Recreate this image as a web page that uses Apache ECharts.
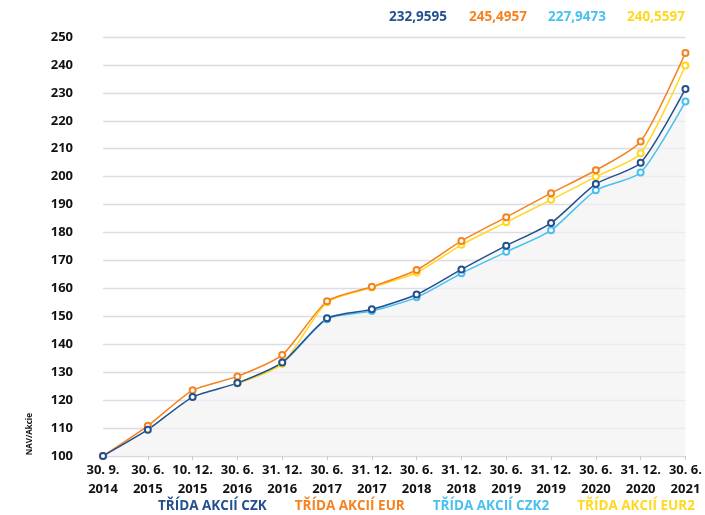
<!DOCTYPE html>
<html>
<head>
<meta charset="utf-8">
<script src="https://cdn.jsdelivr.net/npm/echarts@6/dist/echarts.min.js"></script>
<style>
  html, body { margin: 0; padding: 0; background: #fff; }
  #chart { width: 705px; height: 515px; }
</style>
</head>
<body>
<div id="chart"></div>
<script>
// dates of NAV per share
var categories = ['30. 9.\n2014', '30. 6.\n2015', '10. 12.\n2015', '30. 6.\n2016', '31. 12.\n2016',
  '30. 6.\n2017', '31. 12.\n2017', '30. 6.\n2018', '31. 12.\n2018', '30. 6.\n2019',
  '31. 12.\n2019', '30. 6.\n2020', '31. 12.\n2020', '30. 6.\n2021']

var czk = [100, 109.4, 121.1, 126.1, 133.5, 149.3, 152.5, 157.8, 166.8, 175.3, 183.4, 197.4, 205.0, 231.4]
var eur = [100, 110.8, 123.5, 128.5, 136.2, 155.4, 160.6, 166.6, 177.0, 185.5, 194.1, 202.3, 212.6, 244.3]
var czk2 = [null, null, null, 126.0, 133.2, 149.0, 151.9, 156.8, 165.4, 173.1, 180.8, 195.1, 201.5, 226.9]
var eur2 = [null, null, null, 126.0, 133.0, 155.0, 160.3, 165.7, 175.6, 183.7, 191.7, 200.0, 208.4, 239.8]

// latest NAV shown above the chart
var latest = ['232,9595', '245,4957', '227,9473', '240,5597']

var names = ['TŘÍDA AKCIÍ CZK', 'TŘÍDA AKCIÍ EUR', 'TŘÍDA AKCIÍ CZK2', 'TŘÍDA AKCIÍ EUR2']
var colors = ['#25508f', '#f5821f', '#49c1ef', '#ffd81f']
var yTicks = { min: 100, max: 250, step: 10 }

var font = '"Open Sans"'
var chart = echarts.init(document.getElementById('chart'))

function line(name, data, color, extra) {
  var s = {
    name: name,
    type: 'line',
    data: data,
    smooth: 0.22,
    symbol: 'emptyCircle',
    symbolSize: 6,
    lineStyle: { color: color, width: 1.5 },
    itemStyle: { color: color, borderWidth: 1.2 },
    animation: false
  }
  return Object.assign(s, extra || {})
}

var topX = [418, 498, 577, 656]

chart.setOption({
  textStyle: { fontFamily: font },
  grid: { left: 103, right: 18, top: 37, bottom: 59 },
  legend: {
    top: 499,
    left: 153,
    width: 560,
    padding: 0,
    itemWidth: 0,
    itemHeight: 0,
    itemGap: 23,
    selectedMode: false,
    textStyle: { fontFamily: font, fontWeight: 'bold', fontSize: 13.5 },
    data: names.map(function (n, i) {
      return { name: n, icon: 'none', textStyle: { color: colors[i] } }
    })
  },
  xAxis: {
    type: 'category',
    data: categories,
    boundaryGap: false,
    axisLine: { lineStyle: { color: '#d9d9e3' } },
    axisTick: { show: true, length: 4, lineStyle: { color: '#c8c8d0' } },
    axisLabel: {
      color: '#111',
      fontFamily: font,
      fontWeight: 'bold',
      fontSize: 13,
      lineHeight: 19,
      margin: 5,
      interval: 0
    }
  },
  yAxis: {
    type: 'value',
    min: yTicks.min,
    max: yTicks.max,
    interval: yTicks.step,
    axisLine: { show: false },
    axisTick: { show: false },
    splitLine: { lineStyle: { color: '#dcdce7', width: 1.3 } },
    axisLabel: {
      color: '#111',
      fontFamily: font,
      fontWeight: 'bold',
      fontSize: 13,
      margin: 30
    }
  },
  graphic: [
    {
      type: 'text',
      left: 26,
      top: 413,
      rotation: Math.PI / 2,
      style: { text: 'NAV/Akcie', font: 'bold 8px ' + font, fill: '#111' }
    }
  ].concat(latest.map(function (t, i) {
    return {
      type: 'text',
      x: topX[i],
      y: 17,
      style: {
        text: t,
        font: 'bold 13.5px ' + font,
        fill: colors[i],
        align: 'center',
        verticalAlign: 'middle'
      }
    }
  })),
  series: [
    line(names[2], czk2, colors[2]),
    line(names[3], eur2, colors[3]),
    line(names[1], eur, colors[1]),
    line(names[0], czk, colors[0], { areaStyle: { color: '#f2f2f3', origin: 'start' } })
  ]
})
</script>
</body>
</html>
